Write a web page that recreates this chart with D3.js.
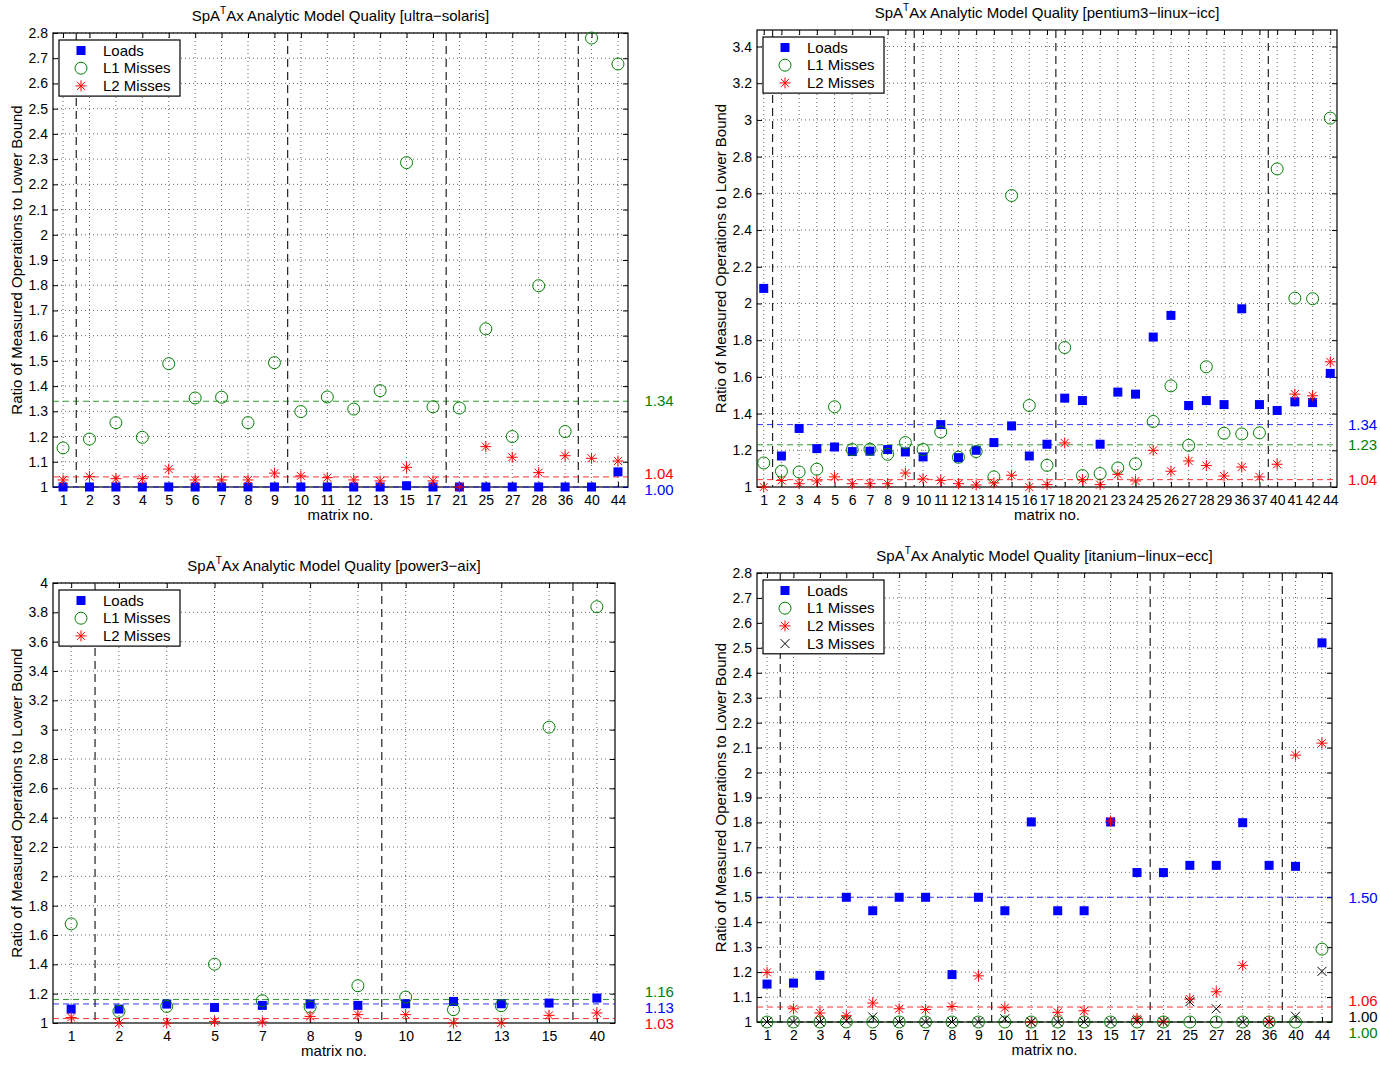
<!DOCTYPE html>
<html>
<head>
<meta charset="utf-8">
<script src="https://cdn.jsdelivr.net/npm/d3@7"></script>
<style>
body { margin: 0; background: #fff; }
svg text { font-family: "Liberation Sans", Arial, Helvetica, sans-serif; fill: #000; }
</style>
</head>
<body>
<svg id="fig" width="1380" height="1066"></svg>
<script>
(function(){

// ---------- data ----------
// ultra-solaris
var solarisMatrices = [1,2,3,4,5,6,7,8,9,10,11,12,13,15,17,21,25,27,28,36,40,44]
var solarisLoads = [1,1,1,1,1,1,1,1,1,1,1,1,1,1.005,1,1,1,1,1,1,1,1.06]
var solarisL1 = [1.155,1.19,1.255,1.197,1.489,1.353,1.356,1.255,1.493,1.299,1.357,1.309,1.382,2.286,1.318,1.313,1.627,1.2,1.798,1.22,2.78,2.677]
var solarisL2 = [1.028,1.041,1.033,1.033,1.071,1.028,1.028,1.028,1.055,1.044,1.037,1.028,1.024,1.078,1.024,1.0,1.16,1.118,1.057,1.124,1.114,1.103]
var solarisRef = [1.00, 1.34, 1.04]          // loads, L1, L2
var solarisBreaks = [1, 9, 17, 36]           // group ends

// pentium3-linux-icc
var pentiumMatrices = [1,2,3,4,5,6,7,8,9,10,11,12,13,14,15,16,17,18,20,21,23,24,25,26,27,28,29,36,37,40,41,42,44]
var pentiumLoads = [2.082,1.169,1.319,1.209,1.218,1.193,1.195,1.204,1.191,1.164,1.34,1.16,1.2,1.242,1.333,1.169,1.233,1.484,1.471,1.233,1.517,1.506,1.817,1.935,1.444,1.471,1.449,1.971,1.449,1.417,1.464,1.46,1.619]
var pentiumL1 = [1.131,1.086,1.082,1.097,1.437,1.204,1.206,1.178,1.242,1.204,1.3,1.162,1.193,1.055,2.588,1.444,1.118,1.76,1.062,1.073,1.104,1.127,1.357,1.551,1.227,1.655,1.293,1.289,1.295,2.733,2.029,2.026,3.01]
var pentiumL2 = [1.0,1.036,1.018,1.033,1.055,1.018,1.018,1.018,1.076,1.044,1.036,1.018,1.011,1.022,1.064,1.0,1.013,1.24,1.04,1.013,1.069,1.033,1.2,1.086,1.142,1.117,1.06,1.109,1.055,1.124,1.506,1.497,1.682]
var pentiumRef = [1.34, 1.23, 1.04]
var pentiumBreaks = [1, 9, 17, 37]

// power3-aix
var powerMatrices = [1,2,4,5,7,8,9,10,12,13,15,40]
var powerLoads = [1.095,1.095,1.129,1.106,1.12,1.129,1.12,1.131,1.147,1.131,1.136,1.17]
var powerL1 = [1.676,1.079,1.113,1.401,1.152,1.109,1.254,1.177,1.091,1.118,3.017,3.838]
var powerL2 = [1.038,1.0,1.0,1.011,1.007,1.045,1.057,1.057,1.0,1.0,1.052,1.068]
var powerRef = [1.13, 1.16, 1.03]
var powerBreaks = [1, 9, 15]

// itanium-linux-ecc
var itaniumMatrices = [1,2,3,4,5,6,7,8,9,10,11,12,13,15,17,21,25,27,28,36,40,44]
var itaniumLoads = [1.152,1.156,1.187,1.5,1.446,1.5,1.5,1.19,1.5,1.446,1.802,1.446,1.446,1.802,1.599,1.599,1.628,1.628,1.799,1.628,1.624,2.52]
var itaniumL1 = [1,1,1,1,1,1,1,1,1,1,1,1,1,1,1,1,1,1,1,1,1,1.292]
var itaniumL2 = [1.199,1.053,1.036,1.025,1.076,1.053,1.05,1.062,1.185,1.057,1.0,1.039,1.045,1.806,1.013,1.003,1.092,1.121,1.227,1.003,2.07,2.118]
var itaniumL3 = [1,1,1,1.005,1.02,1,1,1,1,1.013,1,1,1,1,1.005,1,1.081,1.053,1,1,1.023,1.203]
var itaniumRef = [1.50, 1.00, 1.06, 1.00]
var itaniumBreaks = [1, 9, 17, 36]

var seriesNames = ["Loads", "L1 Misses", "L2 Misses", "L3 Misses"]
var seriesColors = ["#0000ff", "#008000", "#ff0000", "#000000"]

var svg = d3.select("#fig")

// marker shapes
function drawMarker(sel, k) {
  if (k === 0) {
    sel.append("rect").attr("x", -4.5).attr("y", -4.5).attr("width", 9).attr("height", 9)
      .attr("fill", seriesColors[0])
  } else if (k === 1) {
    sel.append("circle").attr("r", 6).attr("fill", "none")
      .attr("stroke", seriesColors[1]).attr("stroke-width", 1)
  } else if (k === 2) {
    sel.append("path").attr("d", "M0,-5.5V5.5M-5.5,0H5.5M-4,-4L4,4M-4,4L4,-4")
      .attr("stroke", seriesColors[2]).attr("stroke-width", 1).attr("fill", "none")
  } else {
    sel.append("path").attr("d", "M-4.5,-4.5L4.5,4.5M-4.5,4.5L4.5,-4.5")
      .attr("stroke", seriesColors[3]).attr("stroke-width", 1).attr("fill", "none")
  }
}

function fmt(d) { return String(+d.toFixed(2)) }

function drawPanel(p) {
  var g = svg.append("g")
  var n = p.matrices.length
  var x = d3.scaleLinear().domain([0.62, n + 0.38]).range([p.left, p.right])
  var y = d3.scaleLinear().domain(p.yDomain).range([p.bottom, p.top])
  var nt = Math.round((p.yTickMax - p.yDomain[0]) / p.yStep)
  var yTicks = d3.range(0, nt + 1).map(function(i){ return +(p.yDomain[0] + i * p.yStep).toFixed(2) })
  var xIdx = d3.range(1, n + 1)

  // dotted grid
  g.append("g").selectAll("line").data(yTicks.slice(1)).enter().append("line")
    .attr("x1", p.left).attr("x2", p.right)
    .attr("y1", function(d){ return y(d) }).attr("y2", function(d){ return y(d) })
    .attr("stroke", "#666").attr("stroke-dasharray", "1,3")
  g.append("g").selectAll("line").data(xIdx).enter().append("line")
    .attr("x1", function(d){ return x(d) }).attr("x2", function(d){ return x(d) })
    .attr("y1", p.top).attr("y2", p.bottom)
    .attr("stroke", "#666").attr("stroke-dasharray", "1,3")

  // axes, ticks pointing inward
  var bottom = g.append("g").attr("transform", "translate(0," + p.bottom + ")")
    .call(d3.axisBottom(x).tickValues(xIdx).tickFormat(function(i){ return p.matrices[i-1] })
      .tickSizeInner(-5).tickSizeOuter(0).tickPadding(8))
  g.append("g").attr("transform", "translate(0," + p.top + ")")
    .call(d3.axisTop(x).tickValues(xIdx).tickFormat("").tickSizeInner(-5).tickSizeOuter(0))
  g.append("g").attr("transform", "translate(" + p.left + ",0)")
    .call(d3.axisLeft(y).tickValues(yTicks).tickFormat(fmt).tickSizeInner(-5).tickSizeOuter(0).tickPadding(5))
  g.append("g").attr("transform", "translate(" + p.right + ",0)")
    .call(d3.axisRight(y).tickValues(yTicks).tickFormat("").tickSizeInner(-5).tickSizeOuter(0))
  g.selectAll(".domain").remove()
  g.selectAll(".tick line").attr("stroke", "#000")
  g.selectAll(".tick text").style("font-size", "14px").attr("fill", "#000")
  bottom.selectAll(".tick text").attr("dy", "0.71em")

  g.append("rect").attr("x", p.left).attr("y", p.top)
    .attr("width", p.right - p.left).attr("height", p.bottom - p.top)
    .attr("fill", "none").attr("stroke", "#000").attr("stroke-width", 1.2)

  // group separators
  g.append("g").selectAll("line").data(p.breaks).enter().append("line")
    .attr("x1", function(m){ return x(p.matrices.indexOf(m) + 1.5) })
    .attr("x2", function(m){ return x(p.matrices.indexOf(m) + 1.5) })
    .attr("y1", p.top).attr("y2", p.bottom)
    .attr("stroke", "#222").attr("stroke-width", 1.2).attr("stroke-dasharray", "8,5")

  // average lines
  var refs = p.refs.map(function(v, k){ return {v: v, k: k} })
  g.append("g").selectAll("line").data(refs).enter().append("line")
    .attr("x1", p.left).attr("x2", p.right)
    .attr("y1", function(d){ return y(d.v) }).attr("y2", function(d){ return y(d.v) })
    .attr("stroke", function(d){ return seriesColors[d.k] })
    .attr("stroke-opacity", 0.8)
    .attr("stroke-dasharray", "6,4")

  // markers
  p.series.forEach(function(vals, k){
    var s = g.append("g")
    vals.forEach(function(v, i){
      var m = s.append("g").attr("transform", "translate(" + x(i + 1) + "," + y(v) + ")")
      drawMarker(m, k)
    })
  })

  // value labels at right, spread apart when they collide
  var minGap = 16
  var labs = refs.map(function(d){ return {v: d.v, k: d.k, pos: y(d.v)} })
  labs.sort(function(a, b){ return (a.pos - b.pos) || (b.k - a.k) })
  for (var it = 0; it < 60; it++) {
    for (var j = 1; j < labs.length; j++) {
      var gap = labs[j].pos - labs[j-1].pos
      if (gap < minGap) {
        var d = (minGap - gap) / 2
        labs[j-1].pos -= d
        labs[j].pos += d
      }
    }
  }
  g.append("g").selectAll("text").data(labs).enter().append("text")
    .attr("x", x(n + 1)).attr("y", function(d){ return d.pos })
    .attr("dy", "0.35em")
    .style("font-size", "15px")
    .style("fill", function(d){ return seriesColors[d.k] })
    .text(function(d){ return d.v.toFixed(2) })

  // legend
  var rows = p.series.length
  var lg = g.append("g").attr("transform", "translate(" + (p.left + 6) + "," + (p.top + 7) + ")")
  lg.append("rect").attr("width", 121).attr("height", rows * 17.7 + 3)
    .attr("fill", "#fff").attr("stroke", "#000").attr("stroke-width", 1.2)
  for (var r = 0; r < rows; r++) {
    var row = lg.append("g").attr("transform", "translate(22," + (10.5 + r * 17.7) + ")")
    drawMarker(row, r)
    lg.append("text").attr("x", 44).attr("y", 10.5 + r * 17.7).attr("dy", "0.35em")
      .style("font-size", "15px").text(seriesNames[r])
  }

  // title with superscript T
  var t = g.append("text").attr("x", (p.left + p.right) / 2).attr("y", p.top - 12)
    .attr("text-anchor", "middle").style("font-size", "15px")
  t.append("tspan").text("SpA")
  t.append("tspan").attr("dy", -7).style("font-size", "10px").text("T")
  t.append("tspan").attr("dy", 7).text("Ax Analytic Model Quality [" + p.name + "]")

  g.append("text").attr("x", (p.left + p.right) / 2).attr("y", p.bottom + 33)
    .attr("text-anchor", "middle").style("font-size", "15px").text("matrix no.")
  g.append("text")
    .attr("transform", "translate(" + (p.left - 31) + "," + ((p.top + p.bottom) / 2) + ") rotate(-90)")
    .attr("text-anchor", "middle").style("font-size", "15px")
    .text("Ratio of Measured Operations to Lower Bound")
}

drawPanel({name: "ultra\u2212solaris", left: 53, top: 33, right: 628, bottom: 487,
  yDomain: [1, 2.8], yTickMax: 2.8, yStep: 0.1,
  matrices: solarisMatrices, series: [solarisLoads, solarisL1, solarisL2],
  refs: solarisRef, breaks: solarisBreaks})

drawPanel({name: "pentium3\u2212linux\u2212icc", left: 757, top: 30, right: 1337, bottom: 487,
  yDomain: [1, 3.49], yTickMax: 3.4, yStep: 0.2,
  matrices: pentiumMatrices, series: [pentiumLoads, pentiumL1, pentiumL2],
  refs: pentiumRef, breaks: pentiumBreaks})

drawPanel({name: "power3\u2212aix", left: 53, top: 583, right: 615, bottom: 1023,
  yDomain: [1, 4], yTickMax: 4, yStep: 0.2,
  matrices: powerMatrices, series: [powerLoads, powerL1, powerL2],
  refs: powerRef, breaks: powerBreaks})

drawPanel({name: "itanium\u2212linux\u2212ecc", left: 757, top: 573, right: 1332, bottom: 1022,
  yDomain: [1, 2.8], yTickMax: 2.8, yStep: 0.1,
  matrices: itaniumMatrices, series: [itaniumLoads, itaniumL1, itaniumL2, itaniumL3],
  refs: itaniumRef, breaks: itaniumBreaks})

})();
</script>
</body>
</html>
